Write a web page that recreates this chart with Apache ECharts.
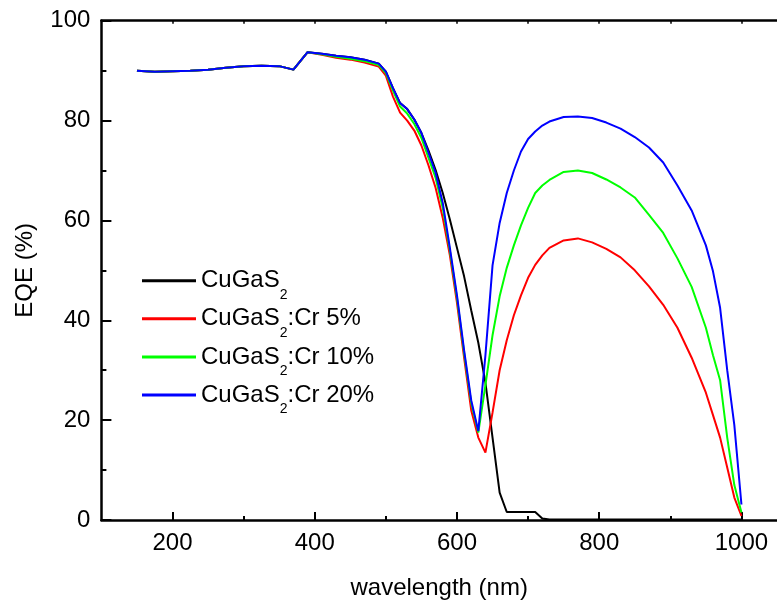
<!DOCTYPE html>
<html><head><meta charset="utf-8">
<script src="https://cdn.jsdelivr.net/npm/echarts@6/dist/echarts.min.js"></script>
<style>html,body{margin:0;padding:0;background:#fff}#c{width:777px;height:605px}</style>
</head><body><div id="c"></div>
<script>
const wavelength = [150,175,200,225,250,275,300,325,350,370,390,410,430,450,470,490,500,510,520,530,540,550,560,570,580,590,600,610,620,630,640,650,660,670,680,690,700,710,720,730,750,770,790,810,830,850,870,890,910,930,950,960,970,980,990,1000];
const eqeCuGaS2 = [90.0,89.8,89.9,90.0,90.2,90.6,90.9,91.0,90.9,90.2,93.7,93.4,93.0,92.7,92.2,91.4,89.8,86.5,83.5,82.3,80.2,77.5,74.0,70.1,65.5,60.2,54.5,48.8,42.0,35.5,27.5,16.5,5.5,1.6,1.6,1.6,1.6,1.6,0.3,0.1,0.1,0.1,0.1,0.1,0.1,0.1,0.1,0.1,0.1,0.1,0.1,0.1,0.1,0.1,0.1,0.1];
const eqeCr5 = [90.0,89.8,89.9,90.0,90.2,90.6,90.9,91.0,90.9,90.2,93.7,93.2,92.6,92.2,91.6,90.8,89.0,84.8,81.6,80.0,78.0,75.0,71.0,66.5,60.5,53.0,43.5,32.5,22.0,16.5,13.5,21.5,30.0,36.0,41.0,45.0,48.5,51.1,53.0,54.5,56.0,56.4,55.6,54.3,52.6,50.0,46.8,43.1,38.5,32.5,25.5,21.0,16.5,10.5,4.5,0.8];
const eqeCr10 = [90.0,89.8,89.9,90.0,90.2,90.6,90.9,91.0,90.9,90.2,93.7,93.3,92.8,92.4,91.9,91.1,89.5,86.0,82.8,81.4,79.3,76.5,72.5,68.5,62.5,54.0,44.5,33.5,23.5,17.5,27.0,37.0,44.8,50.5,55.0,59.0,62.5,65.5,67.0,68.1,69.7,70.0,69.5,68.2,66.6,64.6,61.1,57.5,52.4,46.7,38.5,33.0,28.0,16.5,7.0,1.5];
const eqeCr20 = [90.0,89.8,89.9,90.0,90.2,90.6,90.9,91.0,90.9,90.2,93.7,93.4,93.0,92.7,92.2,91.4,89.8,86.5,83.5,82.3,80.2,77.5,73.5,69.5,63.5,54.5,45.0,34.0,24.0,17.8,33.0,51.0,59.5,65.5,70.0,73.8,76.3,77.8,79.0,79.8,80.7,80.8,80.5,79.6,78.4,76.7,74.6,71.6,67.0,62.0,55.0,49.8,42.5,30.0,19.0,3.1];
const seriesNames = ['CuGaS2','CuGaS2:Cr 5%','CuGaS2:Cr 10%','CuGaS2:Cr 20%'];
const seriesColors = ['#000000','#ff0000','#00ff00','#0000ff'];
const xMajorTicks = [200,400,600,800,1000];
const xMinorTicks = [300,500,700,900];
const xTopTicks = [200,300,400,500,600,700,800,900,1000];

const FONT = '"Liberation Sans", Arial, sans-serif';
const allValues = [eqeCuGaS2, eqeCr5, eqeCr10, eqeCr20];

const chart = echarts.init(document.getElementById('c'), null, {renderer: 'canvas'});
const axisLineStyle = {color: '#000', width: 2.5};

chart.setOption({
  animation: false,
  backgroundColor: '#fff',
  grid: {left: 101.4, right: -2, top: 20.7, bottom: 84.3, containLabel: false},
  legend: {
    left: 142, top: 259.2, orient: 'vertical', padding: 0, itemGap: -4.9,
    itemWidth: 54, itemHeight: 3, icon: 'rect',
    data: seriesNames,
    formatter: function (name) {
      const rest = name.slice(6);
      return '{n|CuGaS}{s|2}' + (rest ? '{n|' + rest + '}' : '');
    },
    textStyle: {
      color: '#000', fontFamily: FONT, fontSize: 24,
      rich: {
        n: {fontSize: 24, lineHeight: 24, fontFamily: FONT, color: '#000'},
        s: {fontSize: 14, lineHeight: 24, fontFamily: FONT, color: '#000', padding: [29, 0, 0, 0]}
      }
    }
  },
  xAxis: [
    {
      type: 'value', position: 'bottom', min: 100, max: 1050,
      name: 'wavelength (nm)', nameLocation: 'middle', nameGap: 56,
      nameTextStyle: {fontFamily: FONT, fontSize: 24, color: '#000'},
      axisLine: {onZero: false, lineStyle: axisLineStyle},
      axisTick: {inside: true, length: 8, customValues: xMajorTicks, lineStyle: {color: '#000', width: 2}},
      axisLabel: {customValues: xMajorTicks, margin: 11, fontFamily: FONT, fontSize: 24, color: '#000',
        formatter: function (v) { return String(v); }},
      splitLine: {show: false}
    },
    {
      type: 'value', position: 'bottom', min: 100, max: 1050,
      axisLine: {show: true, onZero: false, lineStyle: {color: '#000', width: 0, opacity: 0}},
      axisTick: {show: true, inside: true, length: 4, customValues: xMinorTicks, lineStyle: {color: '#000', width: 2}},
      axisLabel: {show: false},
      splitLine: {show: false}
    },
    {
      type: 'value', position: 'top', min: 100, max: 1050,
      axisLine: {onZero: false, lineStyle: axisLineStyle},
      axisTick: {inside: true, length: 3, customValues: xTopTicks, lineStyle: {color: '#000', width: 1.5}},
      axisLabel: {show: false},
      splitLine: {show: false}
    }
  ],
  yAxis: [
    {
      type: 'value', position: 'left', min: 0, max: 100, interval: 20,
      name: 'EQE (%)', nameLocation: 'middle', nameGap: 64,
      nameTextStyle: {fontFamily: FONT, fontSize: 24, color: '#000'},
      axisLine: {show: true, onZero: false, lineStyle: axisLineStyle},
      axisTick: {inside: true, length: 10, lineStyle: {color: '#000', width: 2}},
      minorTick: {show: true, splitNumber: 2, length: 5, lineStyle: {color: '#000', width: 2}},
      axisLabel: {margin: 11, fontFamily: FONT, fontSize: 24, color: '#000'},
      splitLine: {show: false}
    }
  ],
  series: seriesNames.map(function (name, k) {
    return {
      name: name, type: 'line', xAxisIndex: 0, yAxisIndex: 0,
      symbol: 'none', smooth: false, clip: true,
      lineStyle: {color: seriesColors[k], width: 2},
      itemStyle: {color: seriesColors[k]},
      data: wavelength.map(function (w, i) { return [w, allValues[k][i]]; })
    };
  })
});
</script></body></html>
